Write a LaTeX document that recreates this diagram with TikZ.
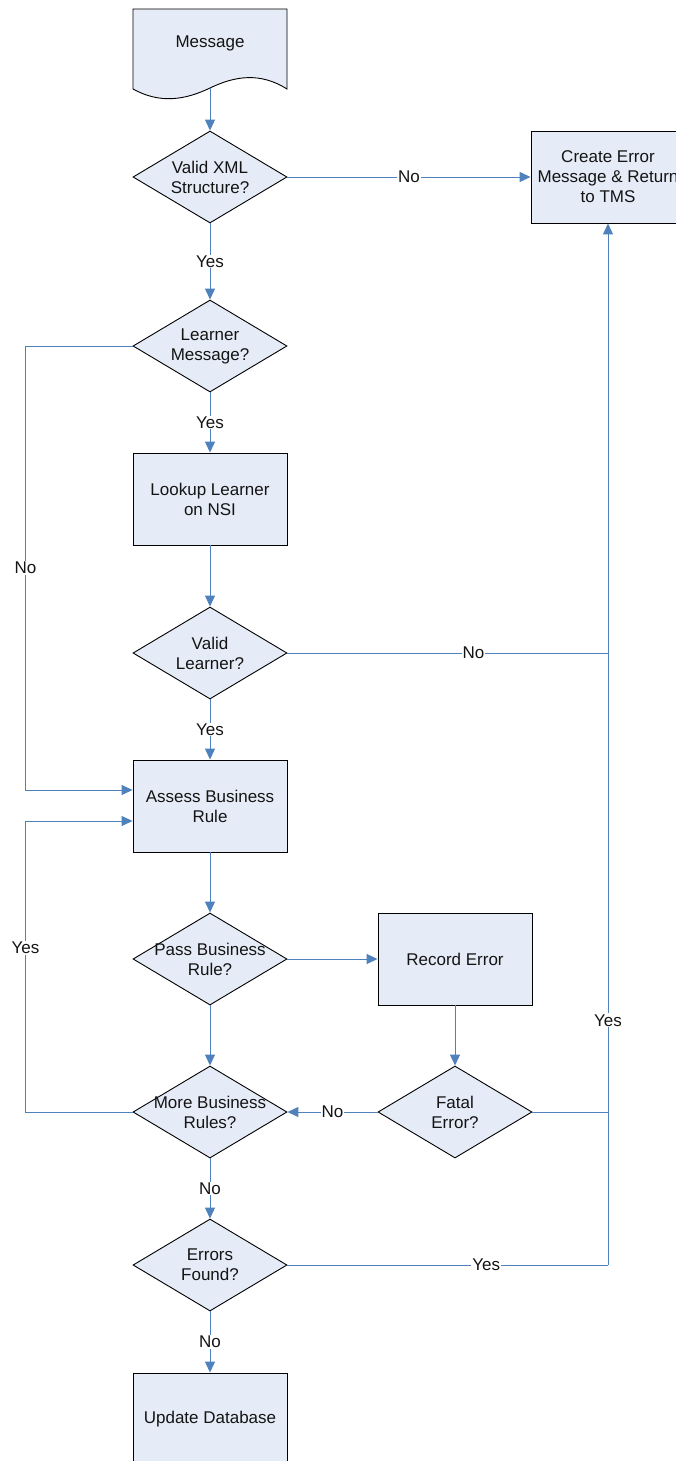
\documentclass[tikz,border=0pt]{standalone}
\usepackage{fontspec}
\setmainfont{Liberation Sans}
\usetikzlibrary{shapes.geometric,arrows.meta,positioning,calc}
\definecolor{fillc}{RGB}{230,236,247}
\definecolor{linec}{RGB}{79,129,189}
\definecolor{textc}{RGB}{20,20,20}
\tikzset{
  txt/.style={font=\fontsize{17}{20}\selectfont, text=textc, align=center, inner sep=0pt},
  procbox/.style={rectangle, draw=black, line width=0.9pt, fill=fillc, minimum width=154pt, minimum height=92pt, inner sep=2pt, txt},
  decision/.style={diamond, draw=black, line width=0.9pt, fill=fillc, minimum width=154pt, minimum height=92pt, inner sep=0pt},
  conn/.style={draw=linec, line width=1pt},
  arr/.style={conn, -{Triangle[length=11pt,width=10pt]}},
  lbl/.style={txt, fill=white, inner sep=1pt}
}
\begin{document}
\begin{tikzpicture}[x=1pt,y=-1pt]
\useasboundingbox (0,0) rectangle (675,1461);
% Message document shape
\path[draw=black, line width=0.9pt, fill=fillc] (133,9) -- (287,9) -- (287,89)
  .. controls (260,72) and (235,76) .. (210,88)
  .. controls (185,100) and (160,104) .. (133,89) -- cycle;
\node[txt] (msg) at (210,43) {Message};
\coordinate (msgb) at (210,88);

\node[decision] (vx) at (210,177) {};
\node[txt] (vxt) at (vx) {Valid XML\\Structure?};

\node[procbox] (cem) at (608,177) {Create Error\\Message \& Return\\to TMS};

\node[decision] (lm) at (210,346) {};
\node[txt] (lmt) at (lm) {Learner\\Message?};

\node[procbox] (ll) at (210,499) {Lookup Learner\\on NSI};

\node[decision] (vl) at (210,653) {};
\node[txt] (vlt) at (vl) {Valid\\Learner?};

\node[procbox] (abr) at (210,806) {Assess Business\\Rule};

\node[decision] (pbr) at (210,959) {};
\node[txt] (pbrt) at (pbr) {Pass Business\\Rule?};

\node[procbox] (re) at (455,959) {Record Error};

\node[decision] (fe) at (455,1112) {};
\node[txt] (fet) at (fe) {Fatal\\Error?};

\node[decision] (mbr) at (210,1112) {};
\node[txt] (mbrt) at (mbr) {More Business\\Rules?};

\node[decision] (ef) at (210,1265) {};
\node[txt] (eft) at (ef) {Errors\\Found?};

\node[procbox] (ud) at (210,1419) {Update Database};

\coordinate (vr) at (608,1265);

% connectors
\draw[arr] (msgb) -- (vx.north);
\draw[arr] (vx.east) -- node[lbl]{No} (cem.west);
\draw[arr] (vx.south) -- node[lbl]{Yes} (lm.north);
\draw[arr] (lm.south) -- node[lbl]{Yes} (ll.north);
\draw[arr] (ll.south) -- (vl.north);
\draw[arr] (vl.south) -- node[lbl]{Yes} (abr.north);
\draw[arr] (lm.west) -- ++(-107,0) |- node[lbl,pos=0.25]{No} ([yshift=16pt]abr.west);
\draw[arr] (abr.south) -- (pbr.north);
\draw[arr] (pbr.east) -- (re.west);
\draw[arr] (re.south) -- (fe.north);
\draw[arr] (pbr.south) -- (mbr.north);
\draw[arr] (fe.west) -- node[lbl]{No} (mbr.east);
\draw[arr] (mbr.west) -- ++(-107,0) |- node[lbl,pos=0.282]{Yes} ([yshift=-15pt]abr.west);
\draw[arr] (mbr.south) -- node[lbl]{No} (ef.north);
\draw[arr] (ef.south) -- node[lbl]{No} (ud.north);
\draw[conn] (vl.east) -- node[lbl,pos=0.58]{No} (vl.east -| cem.south);
\draw[conn] (fe.east) -- (fe.east -| cem.south);
\draw[conn] (ef.east) -- node[lbl,pos=0.62]{Yes} (vr);
\draw[arr] (vr) -- node[lbl,pos=0.235]{Yes} (cem.south);
\end{tikzpicture}
\end{document}
